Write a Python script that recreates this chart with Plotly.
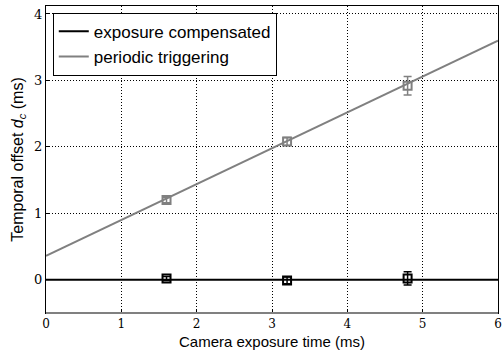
import plotly.graph_objects as go

# Data
exposure = [1.6, 3.2, 4.8]
periodic_y = [1.20, 2.08, 2.92]
periodic_err = [0.04, 0.06, 0.14]
comp_y = [0.02, -0.01, 0.02]
comp_err = [0.03, 0.05, 0.10]
fit_x = [0, 6]
periodic_fit = [0.36, 3.60]
comp_fit = [0.0, 0.0]

GREY = "#808080"
W, H = 503, 351
ML, MR, MT, MB = 46, 5, 6, 38

fig = go.Figure()
fig.add_trace(go.Scatter(x=fit_x, y=comp_fit, mode="lines", line=dict(color="black", width=2),
                         name="exposure compensated"))
fig.add_trace(go.Scatter(x=fit_x, y=periodic_fit, mode="lines", line=dict(color=GREY, width=2),
                         name="periodic triggering"))
fig.add_trace(go.Scatter(x=exposure, y=periodic_y, mode="markers", showlegend=False,
                         marker=dict(symbol="square-open", size=8, color=GREY, line=dict(width=2)),
                         error_y=dict(type="data", array=periodic_err, color=GREY, thickness=1.5, width=4)))
fig.add_trace(go.Scatter(x=exposure, y=comp_y, mode="markers", showlegend=False,
                         marker=dict(symbol="square-open", size=8, color="black", line=dict(width=2)),
                         error_y=dict(type="data", array=comp_err, color="black", thickness=1.5, width=4)))

axis_common = dict(showgrid=True, gridcolor="black", griddash="1px,2px", gridwidth=1,
                   showline=True, linecolor="black", linewidth=1, mirror=True,
                   zeroline=False, ticks="inside", ticklen=4, tickcolor="black",
                   tickfont=dict(family="DejaVu Serif", size=13, color="black"))
fig.update_xaxes(range=[0, 6], dtick=1, **axis_common, automargin=False)
fig.update_xaxes(tickfont_size=12)
fig.update_yaxes(range=[-0.5, 4.12], tickvals=[0, 1, 2, 3, 4], **axis_common,
                 title=dict(text="Temporal offset <i>d<sub>c</sub></i> (ms)", standoff=6,
                            font=dict(family="Liberation Sans", size=16, color="black")))
fig.add_shape(type="line", xref="paper", yref="paper", x0=0, x1=1, y0=0, y1=0,
              line=dict(color=GREY, width=2), layer="above")
fig.add_annotation(text="Camera exposure time (ms)", xref="paper", yref="paper",
                   x=0.5, y=-MB / (H - MT - MB), xanchor="center", yanchor="bottom",
                   showarrow=False, borderpad=0,
                   font=dict(family="Liberation Sans", size=15, color="black"))
fig.update_layout(width=W, height=H, margin=dict(l=ML, r=MR, t=MT, b=MB),
                  plot_bgcolor="white", paper_bgcolor="white",
                  legend=dict(x=0.015, y=0.978, xanchor="left", yanchor="top",
                              bordercolor="black", borderwidth=1, bgcolor="white",
                              font=dict(family="Liberation Sans", size=17, color="black"),
                              tracegroupgap=0, itemwidth=30))
fig.write_html("out.html")
